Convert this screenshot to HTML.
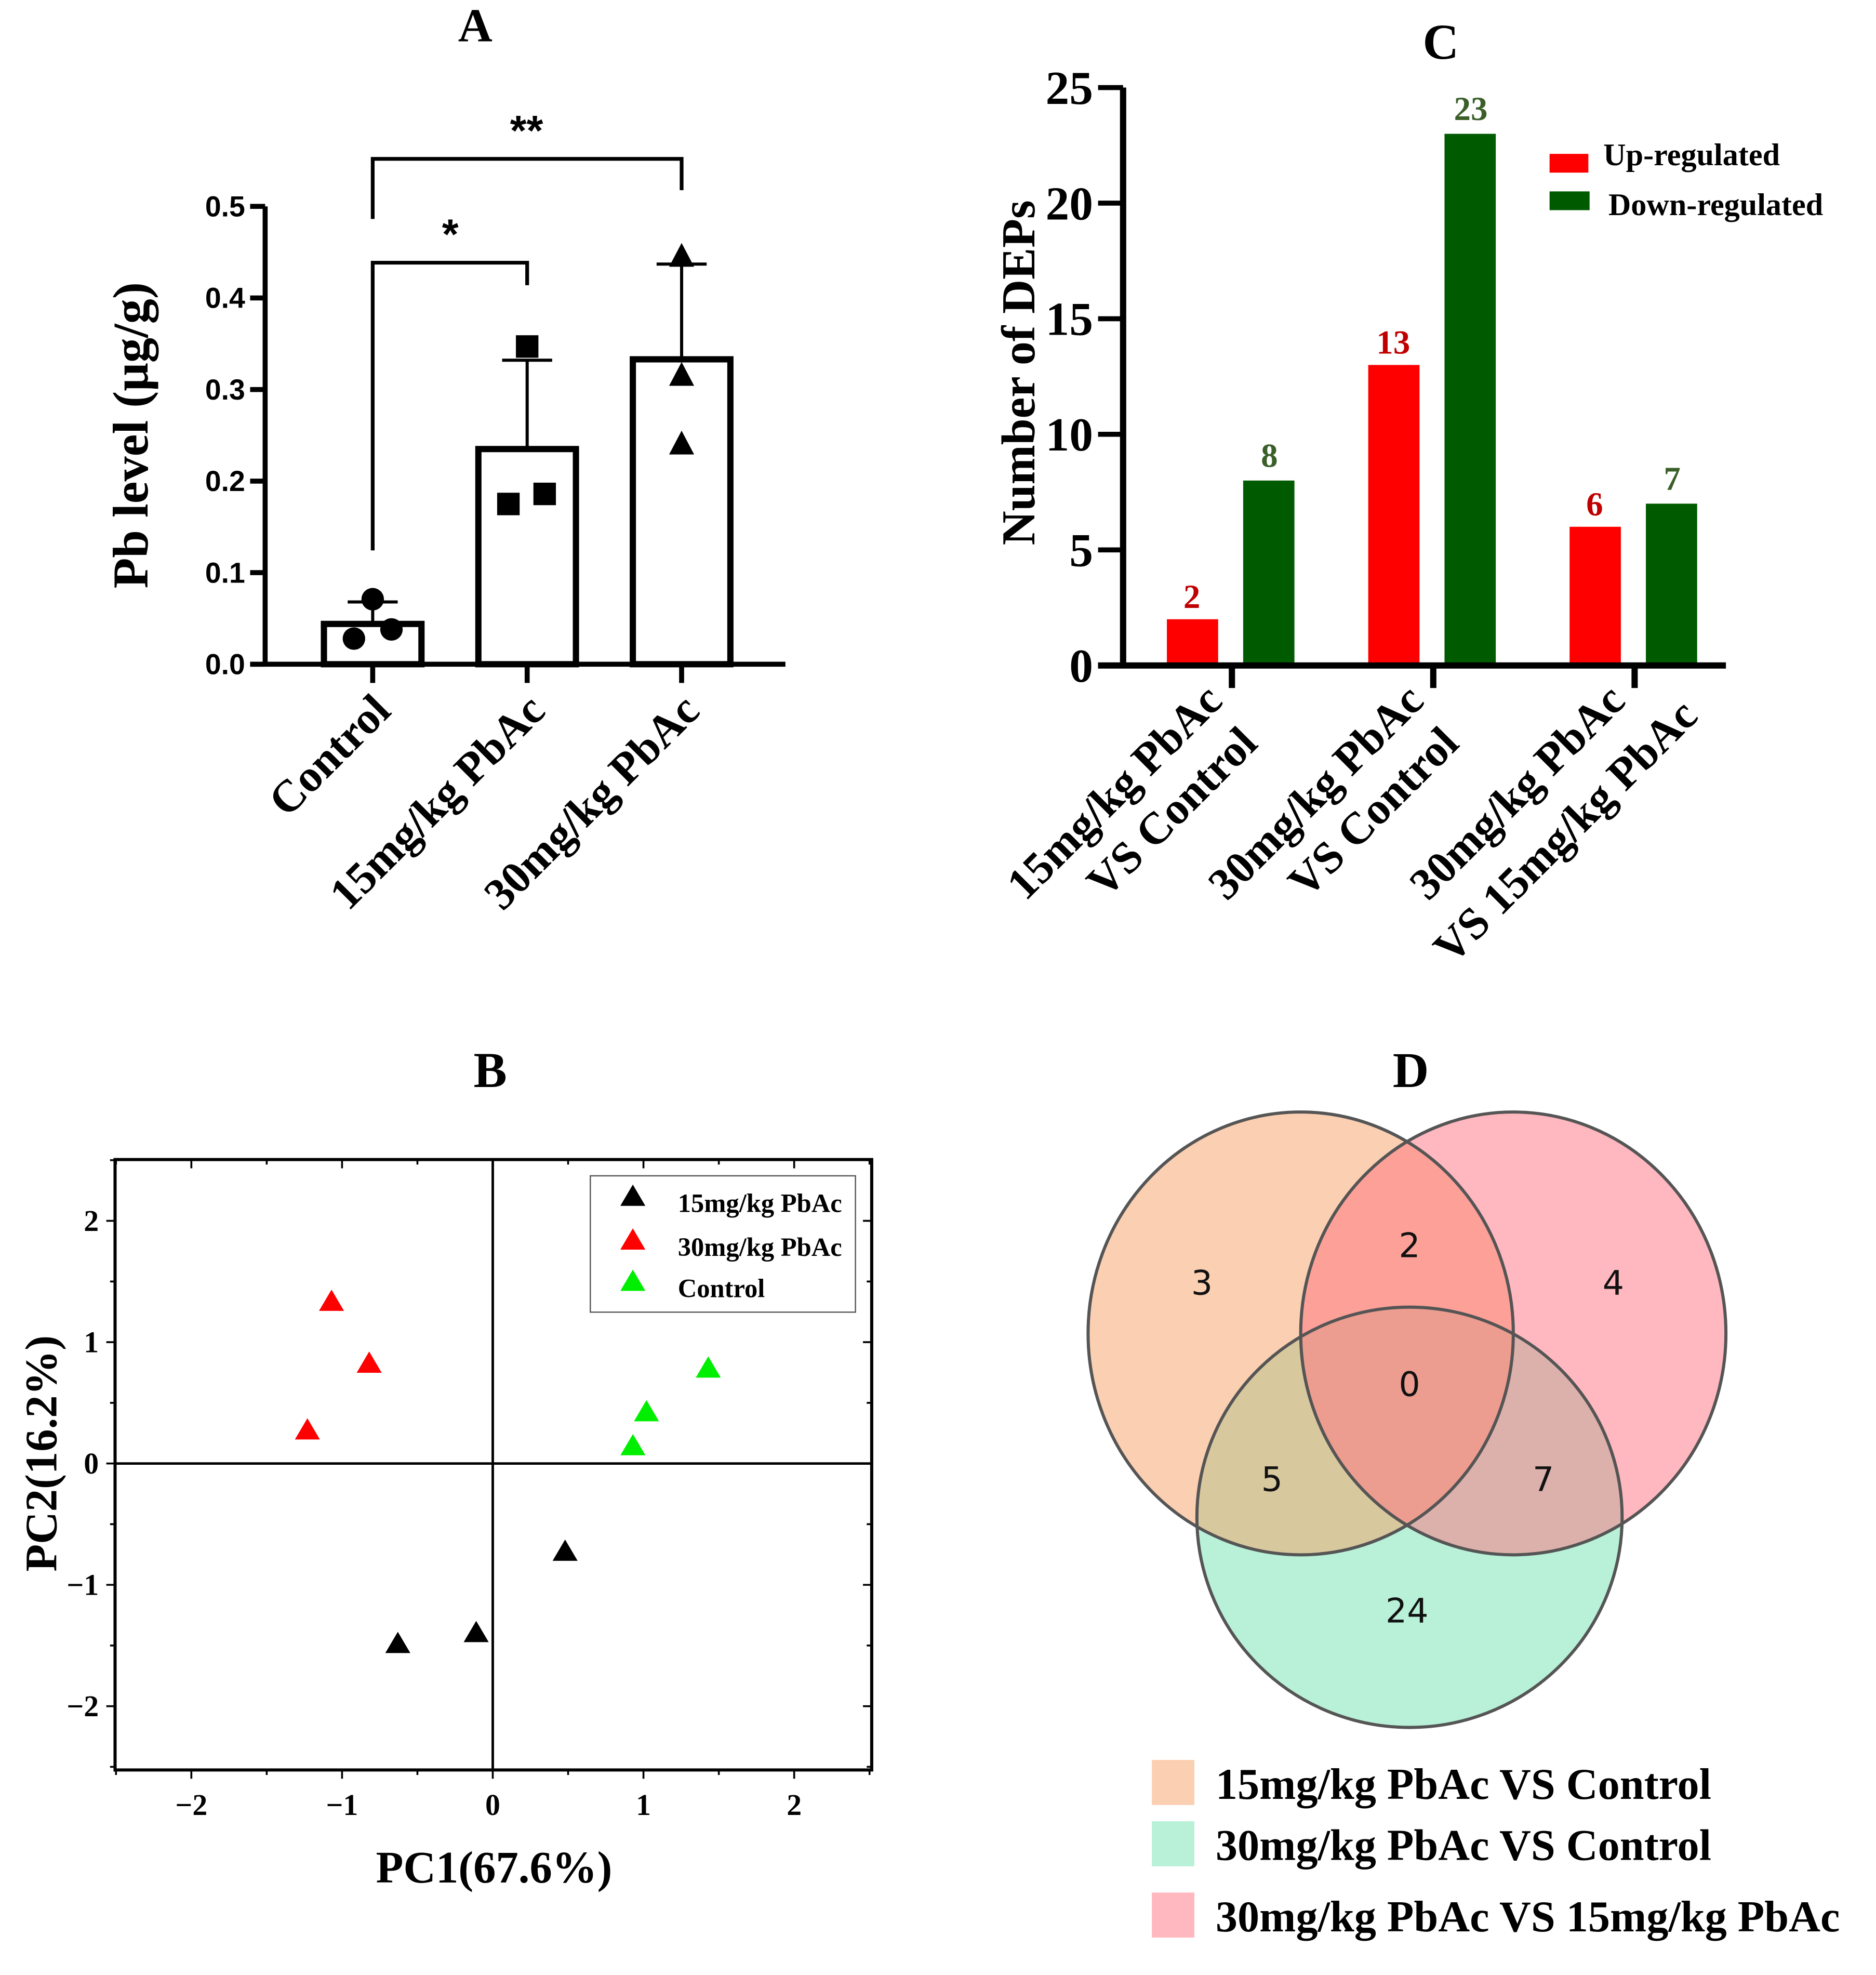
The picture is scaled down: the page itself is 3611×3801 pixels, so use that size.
<!DOCTYPE html>
<html><head><meta charset="utf-8">
<style>
html,body{margin:0;padding:0;background:#fff;}
svg{display:block;}
.serif{font-family:"Liberation Serif",serif;font-weight:bold;}
.sans{font-family:"Liberation Sans",sans-serif;font-weight:bold;}
.dv{font-family:"DejaVu Sans",sans-serif;}
</style></head>
<body>
<svg id="fig" width="3611" height="3801" viewBox="0 0 1500 1578.9" xmlns="http://www.w3.org/2000/svg">
<rect width="1500" height="1578.9" fill="#fff"/>
<g id="pA"></g>
<g id="pC"></g>
<g id="pB"></g>
<g id="pD"></g>
</svg>
<script>
// ---------- Panel A data ----------
const aCategories = ["Control","15mg/kg PbAc","30mg/kg PbAc"];
const aMeans = [0.044, 0.235, 0.333];
const aErrTop = [0.068, 0.332, 0.437];
const aPoints = [[0.028,0.038,0.071],[0.175,0.186,0.347],[0.24,0.315,0.445]];
const aPointDx = [[-15,15,0],[-15,14,0],[0,0,0]];
const aTicks = [0,0.1,0.2,0.3,0.4,0.5];
const aTickLabels = ["0.0","0.1","0.2","0.3","0.4","0.5"];
// ---------- Panel C data ----------
const cCategories = [["15mg/kg PbAc","VS Control"],["30mg/kg PbAc","VS Control"],["30mg/kg PbAc","VS 15mg/kg PbAc"]];
const cUp = [2,13,6];
const cDown = [8,23,7];
const cTicks = [0,5,10,15,20,25];
// ---------- Panel B data ----------
const bSeriesNames = ["15mg/kg PbAc","30mg/kg PbAc","Control"];
const bX15 = [0.48,-0.11,-0.63];
const bY15 = [-0.73,-1.40,-1.49];
const bX30 = [-1.07,-0.82,-1.23];
const bY30 = [1.33,0.82,0.27];
const bXC = [1.43,1.02,0.93];
const bYC = [0.78,0.42,0.14];
const bTicks = [-2,-1,0,1,2];
// ---------- Panel D data ----------
const dCounts = {only15:3, only30v15:4, inter15_30v15:2, all:0, inter15_30:5, inter30_30v15:7, only30:24};
const dLegend = ["15mg/kg PbAc VS Control","30mg/kg PbAc VS Control","30mg/kg PbAc VS 15mg/kg PbAc"];

const NS="http://www.w3.org/2000/svg";
function mk(parent,tag,attrs,text){const e=document.createElementNS(NS,tag);for(const k in attrs)e.setAttribute(k,attrs[k]);if(text!==undefined)e.textContent=text;parent.appendChild(e);return e;}

// ===== Panel A =====
(function(){
const g=document.getElementById('pA');
const y0=531, yPer=732, xl=212;
const ya=v=>y0-v*yPer;
const xc=i=>298+i*123.5;
let t=mk(g,'text',{x:380,y:33,'text-anchor':'middle','font-size':38,class:'serif'},'A');


aMeans.forEach((m,i)=>{
 const r=mk(g,'rect',{x:xc(i)-39,y:ya(m),width:78,height:y0-ya(m),fill:'#fff',stroke:'#000','stroke-width':5});
 
 
 const e=mk(g,'path',{d:`M${xc(i)},${ya(m)}V${ya(aErrTop[i])}M${xc(i)-20},${ya(aErrTop[i])}H${xc(i)+20}`,stroke:'#000','stroke-width':2.5,fill:'none'});
 
 
});
aPoints.forEach((arr,i)=>arr.forEach((v,j)=>{
 const x=xc(i)+aPointDx[i][j], y=ya(v); let p;
 if(i===0)p=mk(g,'circle',{cx:x,cy:y,r:9,fill:'#000'});
 else if(i===1)p=mk(g,'rect',{x:x-9,y:y-9,width:18,height:18,fill:'#000'});
 else p=mk(g,'polygon',{points:`${x},${y-11} ${x-10},${y+8} ${x+10},${y+8}`,fill:'#000'});
 
 
}));
mk(g,'path',{d:`M${xl},165V${y0}M200,${y0}H628`,stroke:'#000','stroke-width':4,fill:'none'});
aTicks.forEach((v,i)=>{
 mk(g,'line',{x1:200,x2:xl,y1:ya(v),y2:ya(v),stroke:'#000','stroke-width':4});
 const l=mk(g,'text',{x:196,y:ya(v)+8,'text-anchor':'end','font-size':23,class:'sans'},aTickLabels[i]);
 
 
});
aCategories.forEach((c,i)=>{
 mk(g,'line',{x1:xc(i),x2:xc(i),y1:y0,y2:546,stroke:'#000','stroke-width':4});
 const l=mk(g,'text',{x:xc(i)+16,y:570,'text-anchor':'end','font-size':36,class:'serif',transform:`rotate(-45 ${xc(i)+16} 570)`},c);
 
 
});
const yt=mk(g,'text',{x:118,y:348,'text-anchor':'middle','font-size':40,class:'serif',transform:'rotate(-90 118 348)'},'Pb level (μg/g)');


mk(g,'path',{d:`M${xc(0)},175V127H${xc(2)}V152`,stroke:'#000','stroke-width':3,fill:'none'});
mk(g,'path',{d:`M${xc(0)},440V210H${xc(1)}V228`,stroke:'#000','stroke-width':3,fill:'none'});
const s2=mk(g,'text',{x:421,y:116,'text-anchor':'middle','font-size':34,class:'sans'},'**');


const s1=mk(g,'text',{x:360,y:199,'text-anchor':'middle','font-size':34,class:'sans'},'*');


})();

// ===== Panel C =====
(function(){
const g=document.getElementById('pC');
const y0=532, per=18.48, xl=898;
const yc=v=>y0-v*per;
const gc=i=>985+i*161;
let t=mk(g,'text',{x:1152,y:47,'text-anchor':'middle','font-size':40,class:'serif'},'C');


cUp.forEach((v,i)=>{
 const x=gc(i)-52;
 const r=mk(g,'rect',{x:x,y:yc(v),width:41,height:y0-yc(v),fill:'#ff0000'});
 
 
 const l=mk(g,'text',{x:x+20,y:yc(v)-9,'text-anchor':'middle','font-size':27,fill:'#c00000',class:'serif'},String(v));
 
 
});
cDown.forEach((v,i)=>{
 const x=gc(i)+9;
 const r=mk(g,'rect',{x:x,y:yc(v),width:41,height:y0-yc(v),fill:'#005a00'});
 
 
 const l=mk(g,'text',{x:x+21,y:yc(v)-11,'text-anchor':'middle','font-size':27,fill:'#3a5f28',class:'serif'},String(v));
 
 
});
mk(g,'path',{d:`M${xl},70V${y0}M878,${y0}H1380`,stroke:'#000','stroke-width':5,fill:'none'});
cTicks.forEach(v=>{
 mk(g,'line',{x1:878,x2:xl,y1:yc(v),y2:yc(v),stroke:'#000','stroke-width':4});
 const l=mk(g,'text',{x:874,y:yc(v)+13,'text-anchor':'end','font-size':38,class:'serif'},String(v));
 
 
});
cCategories.forEach((c,i)=>{
 mk(g,'line',{x1:gc(i),x2:gc(i),y1:y0,y2:550,stroke:'#000','stroke-width':5});
 const x1=gc(i)-6,y1=562;
 const l=mk(g,'text',{x:x1,y:y1,'text-anchor':'end','font-size':36,class:'serif',transform:`rotate(-45 ${x1} ${y1})`},c[0]);
 
 
 const x2=gc(i)+22+(i===2?30:0),y2=596+(i===2?-22:0);
 const l2=mk(g,'text',{x:x2,y:y2,'text-anchor':'end','font-size':36,class:'serif',transform:`rotate(-45 ${x2} ${y2})`},c[1]);
 
 
});
const yt=mk(g,'text',{x:827,y:298,'text-anchor':'middle','font-size':38,class:'serif',transform:'rotate(-90 827 298)'},'Number of DEPs');


let lr=mk(g,'rect',{x:1239,y:123,width:31,height:15,fill:'#ff0000'});


let lt=mk(g,'text',{x:1282,y:132,'font-size':25,class:'serif'},'Up-regulated');


lr=mk(g,'rect',{x:1239,y:153,width:32,height:15,fill:'#005a00'});


lt=mk(g,'text',{x:1286,y:172,'font-size':25,class:'serif'},'Down-regulated');


})();

// ===== Panel B =====
(function(){
const g=document.getElementById('pB');
const X=v=>394+v*120.5, Y=v=>1170-v*97;
const L=92,R=697,T=927,B=1415;
let t=mk(g,'text',{x:392,y:869,'text-anchor':'middle','font-size':40,class:'serif'},'B');


mk(g,'rect',{x:L,y:T,width:R-L,height:B-T,fill:'none',stroke:'#000','stroke-width':2.5});
mk(g,'path',{d:`M${X(0)},${T}V${B}M${L},${Y(0)}H${R}`,stroke:'#000','stroke-width':2,fill:'none'});
[-2.5,-2,-1.5,-1,-0.5,0,0.5,1,1.5,2,2.5].forEach(v=>{
 const major=Number.isInteger(v), len=major?7:4;
 mk(g,'line',{x1:X(v),x2:X(v),y1:B,y2:B+len,stroke:'#000','stroke-width':1.5});
 mk(g,'line',{x1:X(v),x2:X(v),y1:T,y2:T+len,stroke:'#000','stroke-width':1.5});
 mk(g,'line',{y1:Y(v),y2:Y(v),x1:L,x2:L-len,stroke:'#000','stroke-width':1.5});
 mk(g,'line',{y1:Y(v),y2:Y(v),x1:R,x2:R-len,stroke:'#000','stroke-width':1.5});
});
bTicks.forEach(v=>{
 const lab=v<0?'\u2212'+Math.abs(v):String(v);
 let l=mk(g,'text',{x:X(v),y:1451,'text-anchor':'middle','font-size':24,class:'serif'},lab);
 
 
 l=mk(g,'text',{x:79,y:Y(v)+8,'text-anchor':'end','font-size':24,class:'serif'},lab);
 
 
});
function tri(x,y,c,name){const p=mk(g,'polygon',{points:`${x},${y-10} ${x-10},${y+7} ${x+10},${y+7}`,fill:c});
 
 }
bX15.forEach((v,i)=>tri(X(v),Y(bY15[i]),'#000','point-15mg'));
bX30.forEach((v,i)=>tri(X(v),Y(bY30[i]),'#ff0000','point-30mg'));
bXC.forEach((v,i)=>tri(X(v),Y(bYC[i]),'#00ee00','point-control'));
const lb=mk(g,'rect',{x:472,y:940,width:212,height:109,fill:'#fff',stroke:'#555','stroke-width':1});


const cols=['#000','#ff0000','#00ee00'];
bSeriesNames.forEach((n,i)=>{
 const y=[957,992,1025][i];
 tri(506,y,cols[i],'legend-marker');
 const l=mk(g,'text',{x:542,y:y+12,'font-size':21,class:'serif'},n);
 
 
});
let l=mk(g,'text',{x:395,y:1505,'text-anchor':'middle','font-size':36,class:'serif'},'PC1(67.6%)');


l=mk(g,'text',{x:45,y:1162,'text-anchor':'middle','font-size':36,class:'serif',transform:'rotate(-90 45 1162)'},'PC2(16.2%)');


})();

// ===== Panel D =====
(function(){
const g=document.getElementById('pD');
let t=mk(g,'text',{x:1128,y:869,'text-anchor':'middle','font-size':40,class:'serif'},'D');


const circles=[[1127,1213,170,168,'rgb(113,225,177)','circle-30-vs-control'],[1040,1066,170,177,'rgb(247,159,99)','circle-15-vs-control'],[1210,1066,170,177,'rgb(255,113,127)','circle-30-vs-15']];
circles.forEach(c=>{
 const e=mk(g,'ellipse',{cx:c[0],cy:c[1],rx:c[2],ry:c[3],fill:c[4],'fill-opacity':0.5,stroke:'none'});
 
 
});
circles.forEach(c=>{
 mk(g,'ellipse',{cx:c[0],cy:c[1],rx:c[2],ry:c[3],fill:'none',stroke:'#555','stroke-width':2.5});
});
const labs=[[961,1025,dCounts.only15],[1127,995,dCounts.inter15_30v15],[1290,1025,dCounts.only30v15],[1127,1106,dCounts.all],[1017,1182,dCounts.inter15_30],[1234,1182,dCounts.inter30_30v15],[1125,1287,dCounts.only30]];
labs.forEach(a=>{
 const l=mk(g,'text',{x:a[0],y:a[1]+10,'text-anchor':'middle','font-size':27,class:'dv',fill:'#111'},String(a[2]));
 
 
});
const sw=['#fbcfb1','#b8f0d8','#ffb8bf'], ys=[1407,1456,1513];
dLegend.forEach((n,i)=>{
 const r=mk(g,'rect',{x:921,y:ys[i],width:34,height:36,fill:sw[i]});
 
 
 const l=mk(g,'text',{x:972,y:ys[i]+31,'font-size':35,class:'serif'},n);
 
 
});
})();
</script>
</body></html>
